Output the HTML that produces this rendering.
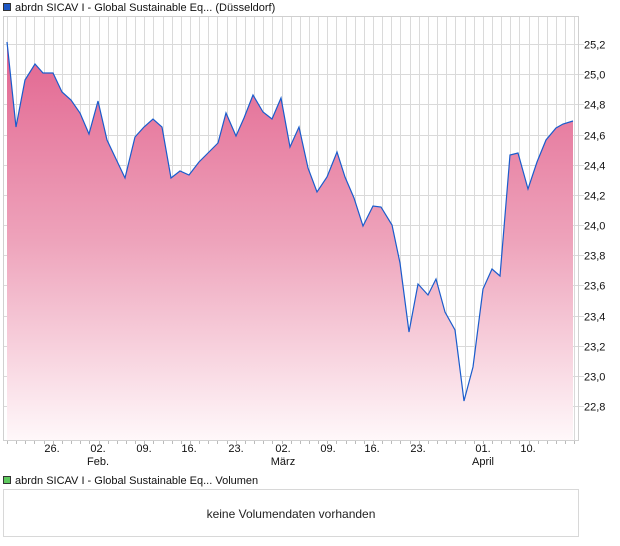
<!DOCTYPE html>
<html><head><meta charset="utf-8"><style>
body{margin:0;background:#fff;}
svg{display:block;font-family:"Liberation Sans",Arial,sans-serif;}
</style></head><body>
<svg width="620" height="546" viewBox="0 0 620 546" xmlns="http://www.w3.org/2000/svg">
<defs>
<linearGradient id="g" x1="0" y1="40" x2="0" y2="441" gradientUnits="userSpaceOnUse">
<stop offset="0" stop-color="#e2648f"/>
<stop offset="0.5" stop-color="#eea3bb"/>
<stop offset="1" stop-color="#fff8fa"/>
</linearGradient>
</defs>
<rect x="0" y="0" width="620" height="546" fill="#fff"/>
<rect x="3.5" y="3.5" width="7" height="7" fill="#1d57c4" stroke="#333" stroke-width="1"/>
<text x="15" y="11" font-size="11" fill="#111">abrdn SICAV I - Global Sustainable Eq... (Düsseldorf)</text>
<g id="grid" stroke="#dadada" stroke-width="1"></g>
<rect x="3.5" y="16.5" width="575" height="424" fill="none" stroke="#d0d0d0"/>
<path id="area" fill="url(#g)" stroke="none"/>
<path id="line" fill="none" stroke="#1a5ccc" stroke-width="1.2"/>
<g id="ylab" font-size="11" fill="#111"></g>
<g id="ticks" stroke="#bbb"></g>
<g font-size="11" fill="#111" text-anchor="middle">
<text x="52" y="452">26.</text>
<text x="98" y="452">02.</text><text x="98" y="465">Feb.</text>
<text x="144" y="452">09.</text>
<text x="189" y="452">16.</text>
<text x="236" y="452">23.</text>
<text x="283" y="452">02.</text><text x="283" y="465">März</text>
<text x="328" y="452">09.</text>
<text x="372" y="452">16.</text>
<text x="418" y="452">23.</text>
<text x="483" y="452">01.</text><text x="483" y="465">April</text>
<text x="528" y="452">10.</text>
</g>
<rect x="3.5" y="476.5" width="7" height="7" fill="#5ec95e" stroke="#333" stroke-width="1"/>
<text x="15" y="484" font-size="11" fill="#111">abrdn SICAV I - Global Sustainable Eq... Volumen</text>
<rect x="3.5" y="489.5" width="575" height="47" fill="#fff" stroke="#d8d8d8"/>
<text x="291" y="518" font-size="12" fill="#222" text-anchor="middle">keine Volumendaten vorhanden</text>
</svg>
<script>
var ns="http://www.w3.org/2000/svg";
var g=document.getElementById("grid");
function ln(p,x1,y1,x2,y2){var l=document.createElementNS(ns,"line");l.setAttribute("x1",x1);l.setAttribute("y1",y1);l.setAttribute("x2",x2);l.setAttribute("y2",y2);p.appendChild(l);}
for(var i=0;i<63;i++){var x=Math.round(7+i*9.15)+0.5;ln(g,x,17,x,441);}
var yl=document.getElementById("ylab");
var labs=["25,2","25,0","24,8","24,6","24,4","24,2","24,0","23,8","23,6","23,4","23,2","23,0","22,8"];
for(var k=0;k<13;k++){var y=Math.round(44+k*30.17)+0.5;ln(g,3,y,584,y);
var t=document.createElementNS(ns,"text");t.setAttribute("x",584);t.setAttribute("y",y+4);t.textContent=labs[k];yl.appendChild(t);}
var tk=document.getElementById("ticks");
for(var i=0;i<63;i++){var x=Math.round(7+i*9.15)+0.5;ln(tk,x,441,x,444);}
var pts=[[7,42],[16,127],[25,80],[35,64],[43,73],[53,73],[62,92],[71,100],[80,113],[89,134],[98,101],[107,140],[116,159],[125,178],[135,137],[144,127],[153,119],[162,127],[171,178],[180,171],[189,175],[199,162],[208,153],[218,143],[226,113],[236,136],[244,118],[253,95],[263,112],[272,119],[281,98],[290,147],[299,127],[308,168],[317,192],[327,177],[337,152],[345,177],[354,198],[363,226],[373,206],[381,207],[392,225],[400,263],[409,332],[418,284],[428,295],[436,279],[445,312],[455,330],[464,401],[473,367],[483,289],[492,269],[500,276],[510,155],[518,153],[528,189],[537,162],[546,140],[556,128],[563,124],[573,121]];
var d="M"+pts.map(function(p){return p[0]+","+p[1]}).join(" L");
document.getElementById("line").setAttribute("d",d);
document.getElementById("area").setAttribute("d",d+" L573,440 L7,440 Z");
</script>
</body></html>
